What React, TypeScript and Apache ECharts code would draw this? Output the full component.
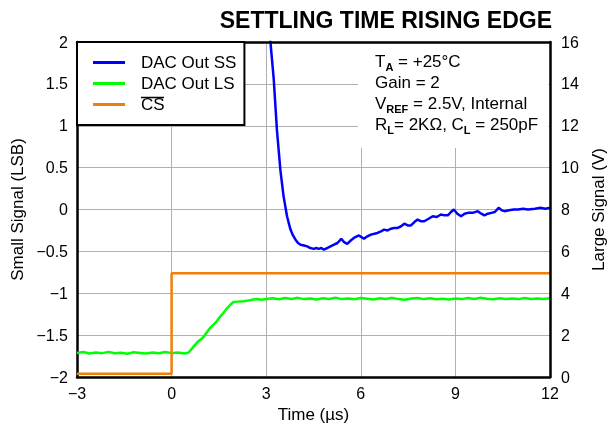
import React, { useEffect, useRef } from "react";
import * as echarts from "echarts";

const FONT = "'Liberation Sans', Arial, Helvetica, sans-serif";

const xTicks = { min: -3, max: 12, interval: 3 };
const leftTicks = { min: -2, max: 2, interval: 0.5 };
const rightTicks = { min: 0, max: 16, interval: 2 };

const seriesNames = ["DAC Out SS", "DAC Out LS", "CS"];

// DAC Out SS (small signal, LSB) — left axis
const ssTime = [3.08, 3.13, 3.24, 3.34, 3.45, 3.55, 3.66, 3.77, 3.85, 3.93, 4.01, 4.09, 4.2, 4.3, 4.4, 4.51, 4.59, 4.67, 4.75, 4.83, 4.93, 5.04, 5.15, 5.26, 5.38, 5.47, 5.57, 5.68, 5.78, 5.94, 6.02, 6.1, 6.21, 6.32, 6.43, 6.53, 6.64, 6.74, 6.85, 6.95, 7.06, 7.17, 7.28, 7.38, 7.49, 7.59, 7.7, 7.8, 7.9, 8.01, 8.15, 8.28, 8.41, 8.54, 8.65, 8.76, 8.86, 8.95, 9.06, 9.18, 9.29, 9.4, 9.55, 9.71, 9.82, 9.92, 10.03, 10.14, 10.25, 10.37, 10.47, 10.56, 10.7, 10.85, 10.99, 11.15, 11.3, 11.52, 11.7, 11.85, 12.0];
const ssLsb = [2.3, 2.02, 1.55, 0.95, 0.47, 0.16, -0.08, -0.24, -0.31, -0.36, -0.4, -0.42, -0.43, -0.44, -0.46, -0.47, -0.46, -0.47, -0.46, -0.48, -0.46, -0.44, -0.42, -0.4, -0.35, -0.39, -0.41, -0.37, -0.34, -0.31, -0.33, -0.35, -0.32, -0.3, -0.29, -0.28, -0.26, -0.24, -0.25, -0.23, -0.22, -0.22, -0.2, -0.17, -0.19, -0.19, -0.15, -0.12, -0.14, -0.14, -0.11, -0.08, -0.09, -0.06, -0.07, -0.07, -0.03, 0.0, -0.05, -0.08, -0.05, -0.04, -0.04, -0.02, -0.05, -0.07, -0.05, -0.04, -0.03, 0.02, -0.01, -0.02, -0.01, 0.0, 0.0, 0.01, 0.0, 0.01, 0.02, 0.01, 0.02];

// DAC Out LS (large signal, V) — right axis
const lsTime = [-3.0, -2.8, -2.6, -2.4, -2.2, -2.0, -1.8, -1.6, -1.4, -1.2, -1.0, -0.8, -0.6, -0.4, -0.2, 0.0, 0.2, 0.4, 0.53, 0.6, 0.69, 0.77, 0.85, 0.93, 1.01, 1.1, 1.22, 1.33, 1.43, 1.53, 1.64, 1.75, 1.86, 1.96, 2.1, 2.28, 2.45, 2.6, 2.71, 2.85, 3.0, 3.2, 3.4, 3.6, 3.8, 4.0, 4.2, 4.4, 4.6, 4.8, 5.0, 5.2, 5.4, 5.6, 5.8, 6.0, 6.2, 6.4, 6.6, 6.8, 7.0, 7.2, 7.4, 7.6, 7.8, 8.0, 8.2, 8.4, 8.6, 8.8, 9.0, 9.2, 9.4, 9.6, 9.8, 10.0, 10.2, 10.4, 10.6, 10.8, 11.0, 11.2, 11.4, 11.6, 11.8, 12.0];
const lsVolts = [1.15, 1.19, 1.12, 1.17, 1.14, 1.2, 1.13, 1.16, 1.11, 1.18, 1.15, 1.12, 1.17, 1.13, 1.19, 1.14, 1.17, 1.12, 1.16, 1.28, 1.44, 1.58, 1.71, 1.8, 1.91, 2.1, 2.34, 2.5, 2.66, 2.86, 3.06, 3.27, 3.45, 3.58, 3.6, 3.62, 3.66, 3.7, 3.72, 3.69, 3.73, 3.76, 3.71, 3.77, 3.73, 3.78, 3.72, 3.75, 3.7, 3.76, 3.73, 3.79, 3.72, 3.75, 3.71, 3.77, 3.74, 3.7, 3.76, 3.73, 3.78, 3.72, 3.69, 3.75, 3.77, 3.72, 3.76, 3.71, 3.74, 3.7, 3.75, 3.72, 3.77, 3.73, 3.79, 3.74, 3.71, 3.76, 3.73, 3.75, 3.72, 3.77, 3.73, 3.75, 3.72, 3.76];

// CS (V) — right axis
const csTime = [-3, 0, 0, 12];
const csVolts = [0.15, 0.15, 4.96, 4.96];

const zip = (a: number[], b: number[]) => a.map((v, i) => [v, b[i]]);
const minusFmt = (v: number) => (v < 0 ? "\u2212" + Math.abs(v) : String(v));
const frameLine = { show: true, onZero: false, lineStyle: { color: "#000", width: 2.5 } };

export default function App() {
  const ref = useRef<HTMLDivElement>(null);
  useEffect(() => {
    if (!ref.current) return;
    const chart = echarts.init(ref.current, null, { renderer: "svg" });
    const rich = {
      n: { fontSize: 17, fontFamily: FONT, fill: "#000", color: "#000", lineHeight: 22 },
      s: { fontSize: 11, fontWeight: "bold", fontFamily: FONT, fill: "#000", color: "#000", lineHeight: 12, verticalAlign: "bottom" },
    };
    const annot = (text: string, y: number) => ({
      type: "text",
      left: 375,
      top: y - 11,
      z: 10,
      style: { text, rich, fill: "#000", font: `17px ${FONT}` },
    });
    chart.setOption({
      animation: false,
      textStyle: { fontFamily: FONT },
      title: {
        text: "SETTLING TIME RISING EDGE",
        right: 55,
        top: 8,
        padding: 0,
        textStyle: { fontSize: 23, fontWeight: "bold", color: "#000", fontFamily: FONT },
      },
      grid: { left: 77, right: 57, top: 42, bottom: 52, outerBoundsMode: "none", containLabel: false },
      legend: {
        orient: "vertical",
        left: 77,
        top: 42,
        padding: [12, 8, 12, 16],
        itemGap: 4,
        itemWidth: 32,
        itemHeight: 3,
        icon: "rect",
        selectedMode: false,
        borderColor: "#000",
        borderWidth: 2,
        backgroundColor: "#fff",
        textStyle: { fontSize: 17, color: "#000", fontFamily: FONT, padding: [0, 0, 0, 11] },
        data: seriesNames,
        z: 6,
      },
      xAxis: [
        {
          type: "value",
          ...xTicks,
          position: "bottom",
          name: "Time (\u00b5s)",
          nameLocation: "middle",
          nameGap: 29,
          nameTextStyle: { fontSize: 17, color: "#000", fontFamily: FONT },
          axisLine: frameLine,
          axisTick: { show: false },
          axisLabel: { fontSize: 16, color: "#000", margin: 8, formatter: minusFmt },
          splitLine: { show: true, lineStyle: { color: "#b0b0b0", width: 1 } },
        },
        {
          type: "value",
          ...xTicks,
          position: "top",
          axisLine: frameLine,
          axisTick: { show: false },
          axisLabel: { show: false },
          splitLine: { show: false },
          z: 5,
        },
      ],
      yAxis: [
        {
          type: "value",
          ...leftTicks,
          position: "left",
          name: "Small Signal (LSB)",
          nameLocation: "middle",
          nameRotate: 90,
          nameGap: 42,
          nameTextStyle: { fontSize: 17, color: "#000", fontFamily: FONT },
          axisLine: frameLine,
          axisTick: { show: false },
          axisLabel: { fontSize: 16, color: "#000", margin: 9, formatter: minusFmt },
          splitLine: { show: true, lineStyle: { color: "#b0b0b0", width: 1 } },
        },
        {
          type: "value",
          ...rightTicks,
          position: "right",
          name: "Large Signal (V)",
          nameLocation: "middle",
          nameRotate: 90,
          nameGap: 16,
          nameTextStyle: { fontSize: 17, color: "#000", fontFamily: FONT },
          axisLine: frameLine,
          axisTick: { show: false },
          axisLabel: { fontSize: 16, color: "#000", margin: 11 },
          splitLine: { show: false },
          z: 5,
        },
      ],
      series: [
        {
          name: seriesNames[0],
          type: "line",
          xAxisIndex: 0,
          yAxisIndex: 0,
          data: zip(ssTime, ssLsb),
          showSymbol: false,
          clip: true,
          color: "#0000ff",
          lineStyle: { color: "#0000ff", width: 2.5 },
          z: 3,
        },
        {
          name: seriesNames[1],
          type: "line",
          xAxisIndex: 0,
          yAxisIndex: 1,
          data: zip(lsTime, lsVolts),
          showSymbol: false,
          color: "#00ff00",
          lineStyle: { color: "#00ff00", width: 2.5 },
          z: 3,
        },
        {
          name: seriesNames[2],
          type: "line",
          xAxisIndex: 0,
          yAxisIndex: 1,
          data: zip(csTime, csVolts),
          showSymbol: false,
          color: "#f07f0a",
          lineStyle: { color: "#f07f0a", width: 2.5 },
          z: 3,
        },
      ],
      graphic: [
        {
          type: "rect",
          shape: { x: 358, y: 43.5, width: 190.5, height: 104.5 },
          style: { fill: "#fff" },
          z: 1,
        },
        {
          type: "line",
          shape: { x1: 141, y1: 97.5, x2: 164, y2: 97.5 },
          style: { stroke: "#000", lineWidth: 1.5 },
          z: 20,
        },
        annot("{n|T}{s|A}{n| = +25\u00b0C}", 64),
        annot("{n|Gain = 2}", 85),
        annot("{n|V}{s|REF}{n| = 2.5V, Internal}", 106),
        annot("{n|R}{s|L}{n|= 2K\u03a9, C}{s|L}{n| = 250pF}", 127),
      ],
    });
    return () => chart.dispose();
  }, []);
  return <div ref={ref} style={{ position: "fixed", left: 0, top: 0, width: 607, height: 429 }} />;
}
